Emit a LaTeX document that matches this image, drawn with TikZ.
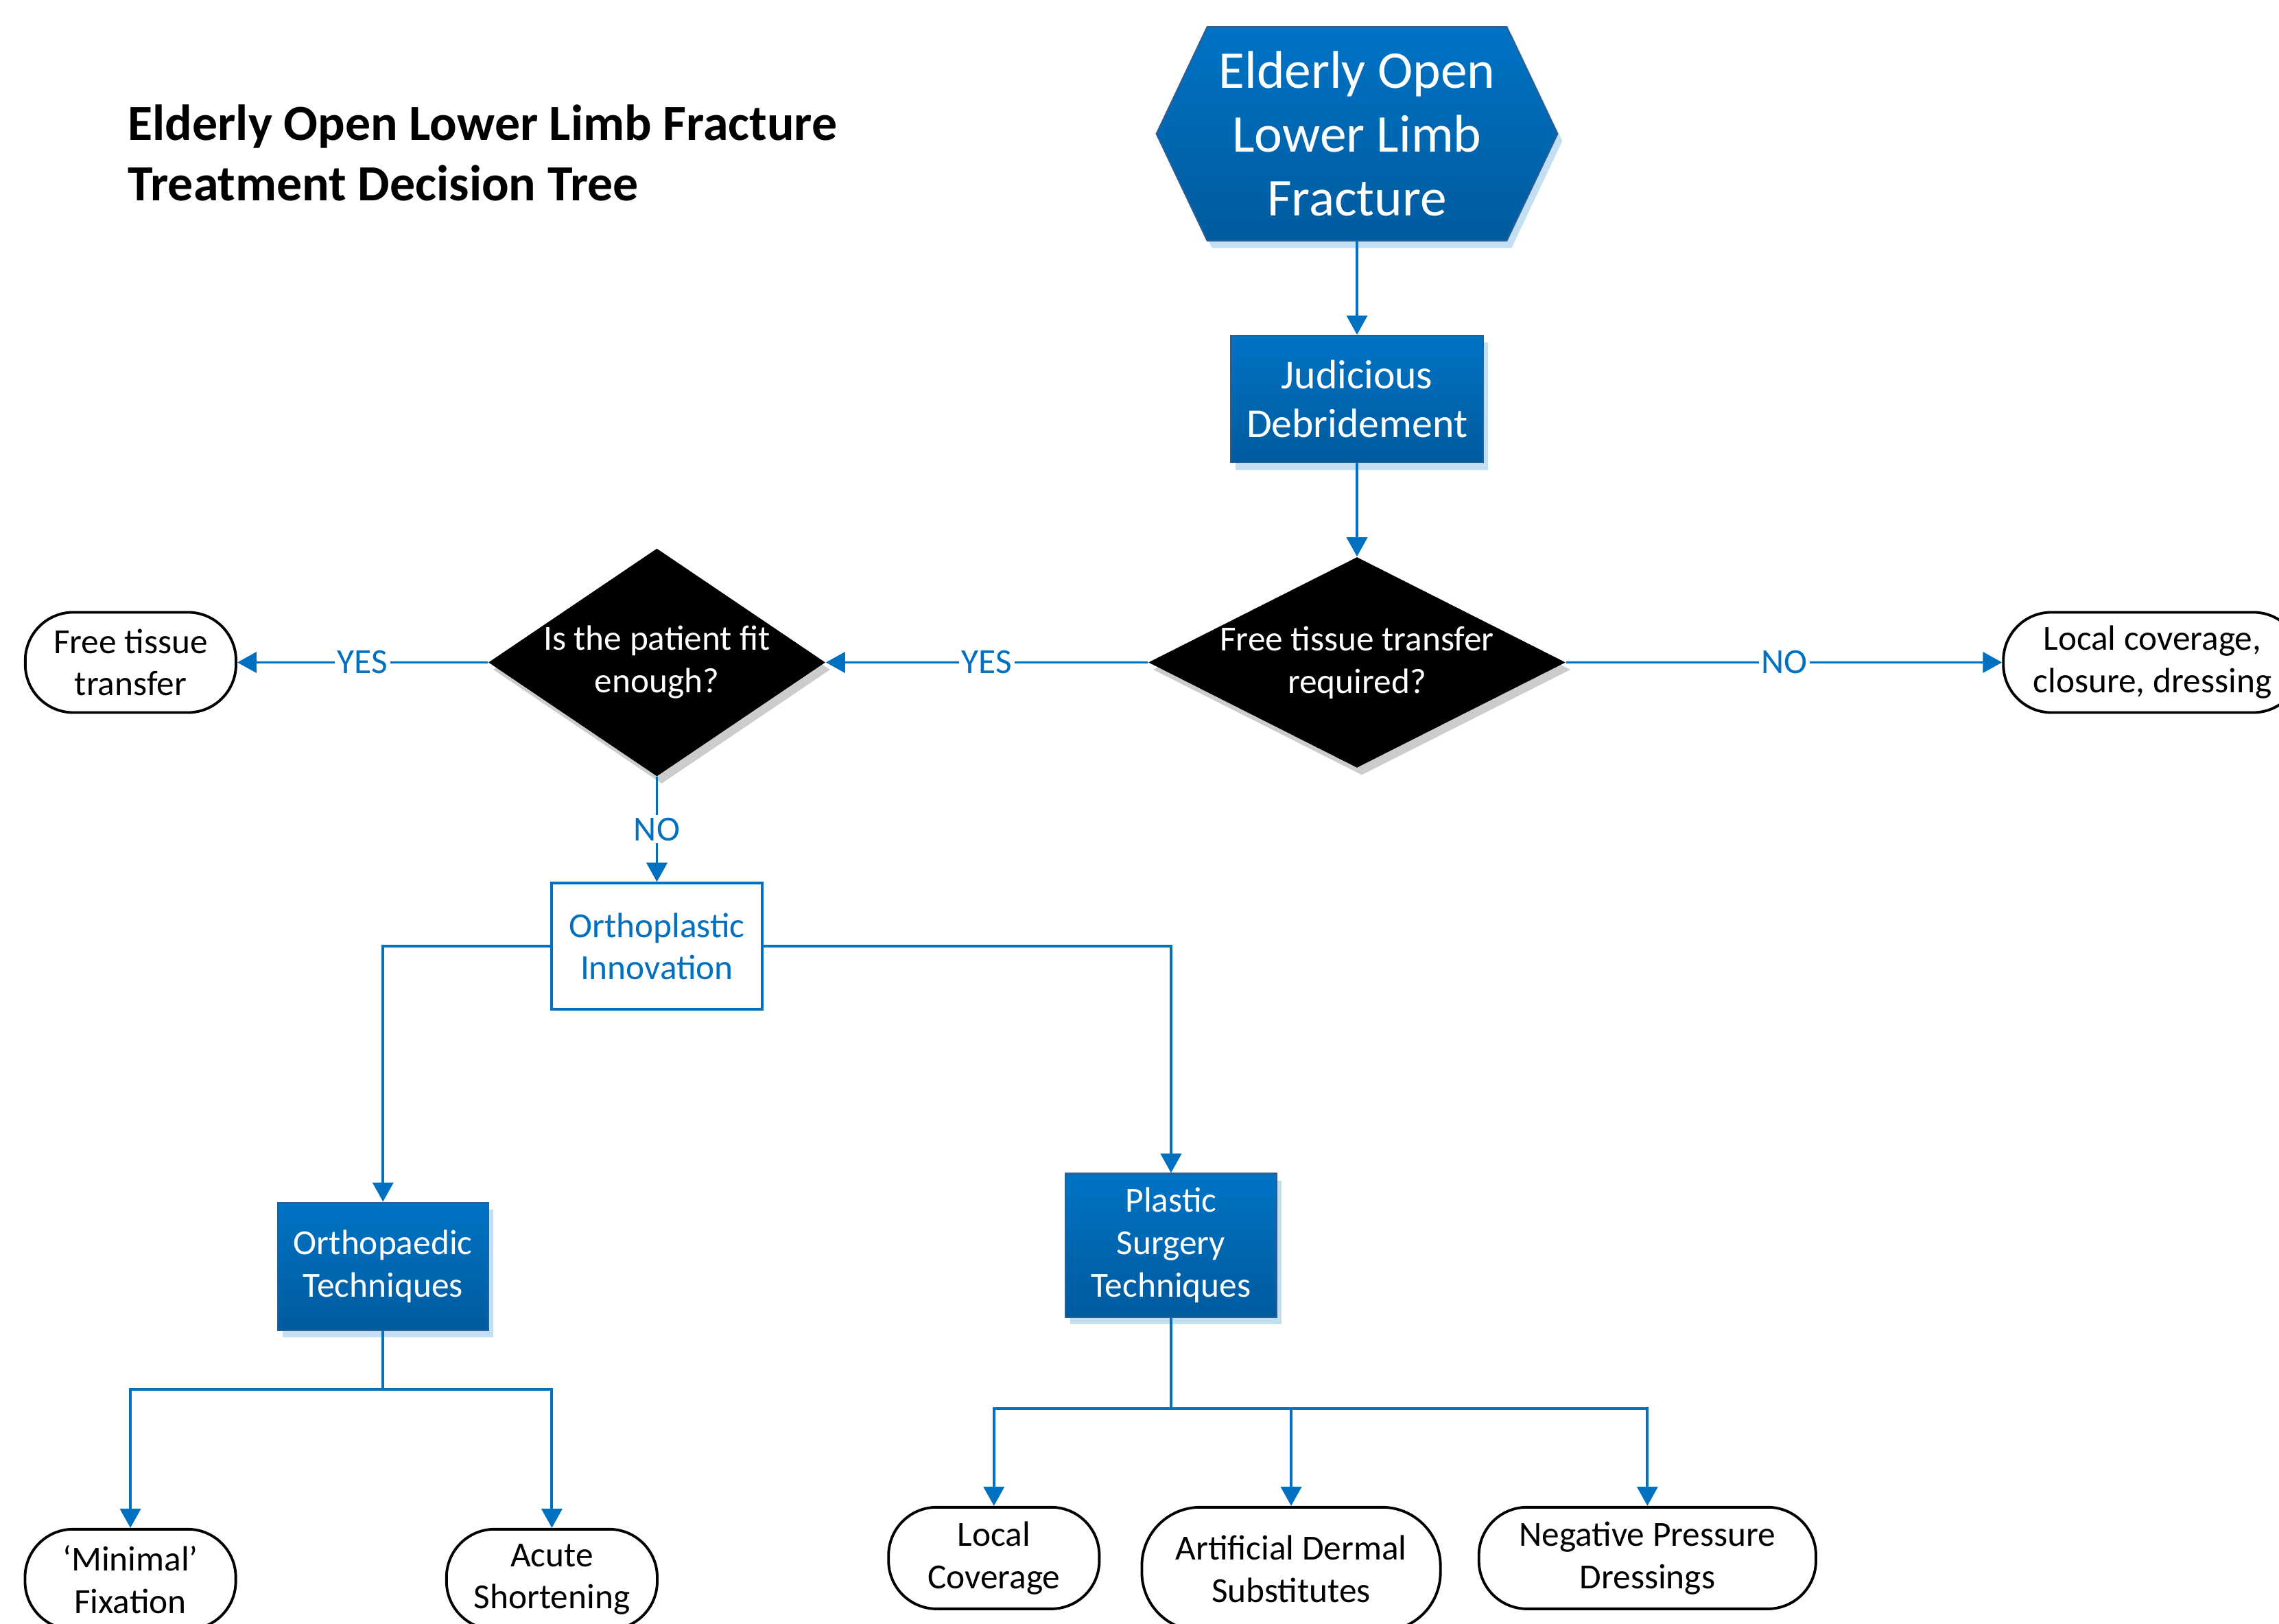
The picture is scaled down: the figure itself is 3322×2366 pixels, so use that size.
\documentclass[tikz,border=0pt]{standalone}
\usepackage{fontspec}
\setmainfont{Carlito}
\usepackage{tikz}
\usetikzlibrary{shapes.geometric, arrows.meta, positioning, backgrounds, shadows}

\definecolor{lineblue}{HTML}{0070C0}
\definecolor{boxtop}{HTML}{0073C5}
\definecolor{boxbot}{HTML}{005B9E}
\definecolor{boxedge}{HTML}{2A5F95}

\begin{document}
\begin{tikzpicture}[x=0.01cm, y=-0.01cm,
    node distance=1.36cm,
    title/.style={anchor=west, inner sep=0pt, align=left, font=\fontsize{21}{25.2}\selectfont\bfseries},
    hexagon/.style={rectangle, minimum width=4.35cm, minimum height=3.1cm, inner sep=0pt, text=white, align=center, font=\fontsize{22}{26.4}\selectfont},
    hexfill/.style={draw=boxedge, line width=0.6pt, top color=boxtop, bottom color=boxbot, drop shadow={shadow xshift=2pt, shadow yshift=-3pt, fill=boxtop!45, opacity=0.5}},
    bluebox/.style={rectangle, draw=boxedge, line width=0.6pt, top color=boxtop, bottom color=boxbot, text=white, align=center, inner sep=2pt, font=\fontsize{14.6}{17.6}\selectfont, drop shadow={shadow xshift=2pt, shadow yshift=-3pt, fill=boxtop!45, opacity=0.5}},
    plainbox/.style={rectangle, draw=lineblue, line width=1.1pt, fill=white, text=lineblue, align=center, inner sep=2pt, font=\fontsize{14.6}{17.6}\selectfont},
    decision/.style={diamond, aspect=2, fill=black, text=white, align=center, inner xsep=-1cm, inner ysep=0pt, font=\fontsize{14.6}{17.6}\selectfont, drop shadow={shadow xshift=2pt, shadow yshift=-3pt, fill=black, opacity=0.2}},
    terminal/.style={rectangle, rounded corners=0.7cm, draw=black, line width=1.1pt, fill=white, align=center, inner sep=2pt, font=\fontsize{14.6}{17.6}\selectfont},
    lbl/.style={fill=white, text=lineblue, inner sep=1pt, font=\fontsize{14.6}{17.6}\selectfont},
    arrow/.style={draw=lineblue, line width=1.1pt, -{Triangle[length=0.28cm, width=0.3cm]}}
    ]
    \useasboundingbox (0,0) rectangle (3322,2366);

    % Title
    \node (title) [title] at (186,223) {Elderly Open Lower Limb Fracture\\Treatment Decision Tree};

    % Main path
    \node (start) [hexagon] at (1978,195) {Elderly Open\\Lower Limb\\Fracture};
    \node (judicious) [bluebox, below=1.37cm of start, minimum width=3.67cm, minimum height=1.85cm, font=\fontsize{17}{20.4}\selectfont] {Judicious\\Debridement};
    \node (required) [decision, below=of judicious, minimum width=6.08cm, minimum height=3.07cm] {Free tissue transfer\\required?};
    \node (fit) [decision, left=4.69cm of required, minimum width=4.91cm, minimum height=3.32cm] {Is the patient fit\\enough?};
    \node (freett) [terminal, left=3.65cm of fit, minimum width=3.07cm, minimum height=1.46cm] {Free tissue\\transfer};
    \node (localcdc) [terminal, right=6.35cm of required, minimum width=4.34cm, minimum height=1.46cm] {Local coverage,\\closure, dressing};
    \node (ortho) [plainbox, below=1.53cm of fit, minimum width=3.07cm, minimum height=1.84cm] {Orthoplastic\\Innovation};

    % Technique branches
    \node (orthopaedic) [bluebox, below=2.78cm of ortho, xshift=-3.99cm, minimum width=3.07cm, minimum height=1.86cm] {Orthopaedic\\Techniques};
    \node (plastic) [bluebox, below=2.36cm of ortho, xshift=7.49cm, minimum width=3.07cm, minimum height=2.09cm] {Plastic\\Surgery\\Techniques};
    \node (minimal) [terminal, below=2.87cm of orthopaedic, xshift=-3.68cm, minimum width=3.07cm, minimum height=1.46cm] {`Minimal'\\Fixation};
    \node (acute) [terminal, below=2.87cm of orthopaedic, xshift=2.46cm, minimum width=3.07cm, minimum height=1.46cm] {Acute\\Shortening};
    \node (localcov) [terminal, below=2.74cm of plastic, xshift=-2.58cm, minimum width=3.07cm, minimum height=1.48cm] {Local\\Coverage};
    \node (artificial) [terminal, below=2.74cm of plastic, xshift=1.75cm, minimum width=4.35cm, minimum height=1.8cm, rounded corners=0.85cm] {Artificial Dermal\\Substitutes};
    \node (negative) [terminal, below=2.74cm of plastic, xshift=6.94cm, minimum width=4.91cm, minimum height=1.48cm] {Negative Pressure\\Dressings};

    % Hexagon outline
    \begin{scope}[on background layer]
        \path [hexfill] (start.north west) -- (start.north east) -- ([xshift=0.74cm]start.east) -- (start.south east) -- (start.south west) -- ([xshift=-0.74cm]start.west) -- cycle;
    \end{scope}

    % Arrows
    \draw [arrow] (start) -- (judicious);
    \draw [arrow] (judicious) -- (required);
    \draw [arrow] (required) -- node[lbl] {YES} (fit);
    \draw [arrow] (fit) -- node[lbl] {YES} (freett);
    \draw [arrow] (required) -- node[lbl] {NO} (localcdc);
    \draw [arrow] (fit) -- node[lbl] {NO} (ortho);
    \draw [arrow] (ortho.west) -| (orthopaedic.north);
    \draw [arrow] (ortho.east) -| (plastic.north);
    \draw [arrow] (orthopaedic.south) -- ++(0,85) -| (minimal.north);
    \draw [arrow] (orthopaedic.south) -- ++(0,85) -| (acute.north);
    \draw [arrow] (plastic.south) -- ++(0,132) -| (localcov.north);
    \draw [arrow] (plastic.south) -- ++(0,132) -| (artificial.north);
    \draw [arrow] (plastic.south) -- ++(0,132) -| (negative.north);

\end{tikzpicture}
\end{document}
